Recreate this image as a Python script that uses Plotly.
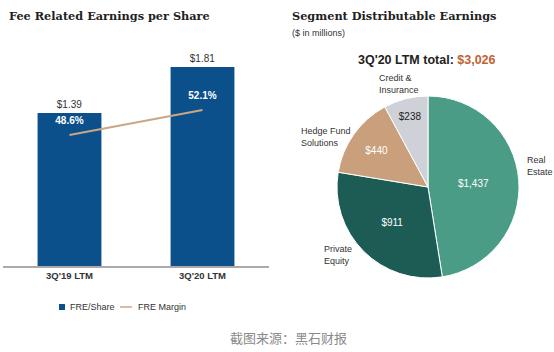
import plotly.graph_objects as go

# ---- data ----
periods = ["3Q'19 LTM", "3Q'20 LTM"]
fre_per_share = [1.39, 1.81]
fre_margin = [48.6, 52.1]

segments = ["Real Estate", "Private Equity", "Hedge Fund Solutions", "Credit & Insurance"]
segment_values = [1437, 911, 440, 238]
segment_label_text = ["Real<br>Estate", "Private<br>Equity", "Hedge Fund<br>Solutions", "Credit &<br>Insurance"]
total_value = 3026

W, H = 554, 352
def px(x):
    return x / W
def py(y):
    return 1 - y / H

NAVY = "#0B4F8B"
TAN_LINE = "#CBA684"
SANS = "Liberation Sans, Arial, sans-serif"
SERIF = "DejaVu Serif, serif"

fig = go.Figure()

fig.add_trace(go.Bar(
    x=periods, y=fre_per_share,
    marker=dict(color=NAVY, line=dict(width=0)),
    text=[f"${v:.2f}" for v in fre_per_share],
    textposition="outside",
    textfont=dict(family=SANS, size=10, color="#333333"),
    cliponaxis=False,
    width=0.48,
    name="FRE/Share", showlegend=False,
))

fig.add_trace(go.Scatter(
    x=periods, y=fre_margin, yaxis="y2",
    mode="lines+markers+text",
    line=dict(color=TAN_LINE, width=2),
    marker=dict(size=12, opacity=0),
    text=[f"<b>{v:.1f}%</b>" for v in fre_margin],
    textposition="top center",
    textfont=dict(family=SANS, size=10, color="white"),
    cliponaxis=False,
    name="FRE Margin", showlegend=False,
))

fig.add_trace(go.Pie(
    labels=segments, values=segment_values,
    sort=False, direction="clockwise", rotation=0,
    marker=dict(colors=["#4A9C86", "#1D5C55", "#C9A07B", "#CED2D8"],
                line=dict(color="white", width=1)),
    texttemplate="$%{value:,}",
    textposition="inside",
    insidetextorientation="horizontal",
    textfont=dict(family=SANS, size=10, color=["white", "white", "white", "#222222"]),
    domain=dict(x=[px(337), px(519)], y=[py(278), py(96)]),
    showlegend=False, hoverinfo="label+value",
))

# scale: 110 px per $1, zero at pixel 266; top pixel 46
fig.update_layout(
    width=W, height=H,
    margin=dict(l=0, r=0, t=0, b=0),
    paper_bgcolor="white", plot_bgcolor="white",
    xaxis=dict(domain=[px(3), px(269)], range=[-0.5, 1.5], autorange=False,
               showgrid=False, showline=True,
               linecolor="#AAAAAA", linewidth=1.5, ticks="",
               tickfont=dict(family=SANS, size=9.5, color="#333333")),
    yaxis=dict(domain=[py(266), py(46)], range=[0, 2.0], visible=False),
    yaxis2=dict(overlaying="y", range=[30.26, 61.06], visible=False),
)
fig.update_xaxes(tickvals=periods, ticktext=[f"<b>{p}</b>" for p in periods])

annotations = [
    dict(x=px(7), y=py(16), text="<b>Fee Related Earnings per Share</b>",
         font=dict(family=SERIF, size=11.3, color="#222222"), xanchor="left"),
    dict(x=px(290), y=py(16), text="<b>Segment Distributable Earnings</b>",
         font=dict(family=SERIF, size=11.3, color="#222222"), xanchor="left"),
    dict(x=px(290), y=py(33), text="($ in millions)",
         font=dict(family=SANS, size=9, color="#333333"), xanchor="left"),
    dict(x=px(427), y=py(60),
         text=f"<b>3Q'20 LTM total: <span style='color:#C0622F'>${total_value:,}</span></b>",
         font=dict(family=SANS, size=12.5, color="#222222"), xanchor="center"),
    # pie category labels
    dict(x=px(525), y=py(166), text=segment_label_text[0], align="left",
         font=dict(family=SANS, size=9, color="#333333"), xanchor="left"),
    dict(x=px(322), y=py(255), text=segment_label_text[1], align="left",
         font=dict(family=SANS, size=9, color="#333333"), xanchor="left"),
    dict(x=px(299), y=py(137), text=segment_label_text[2], align="left",
         font=dict(family=SANS, size=9, color="#333333"), xanchor="left"),
    dict(x=px(377), y=py(84), text=segment_label_text[3], align="left",
         font=dict(family=SANS, size=9, color="#333333"), xanchor="left"),
    # legend
    dict(x=px(68), y=py(307), text="FRE/Share",
         font=dict(family=SANS, size=9, color="#333333"), xanchor="left"),
    dict(x=px(136), y=py(307), text="FRE Margin",
         font=dict(family=SANS, size=9, color="#333333"), xanchor="left"),
    # watermark
    dict(x=px(288), y=py(337), text="截图来源：黑石财报",
         font=dict(family="Noto Sans CJK SC", size=13, color="#8A8A8A"), xanchor="center"),
]
for a in annotations:
    a.update(xref="paper", yref="paper", showarrow=False, yanchor="middle")
fig.update_layout(annotations=annotations)

fig.update_layout(shapes=[
    dict(type="rect", xref="paper", yref="paper",
         x0=px(59), x1=px(65), y0=py(310), y1=py(304),
         fillcolor=NAVY, line=dict(width=0)),
    dict(type="line", xref="paper", yref="paper",
         x0=px(120), x1=px(132), y0=py(307), y1=py(307),
         line=dict(color=TAN_LINE, width=1.5)),
])

fig.write_html("out.html")
